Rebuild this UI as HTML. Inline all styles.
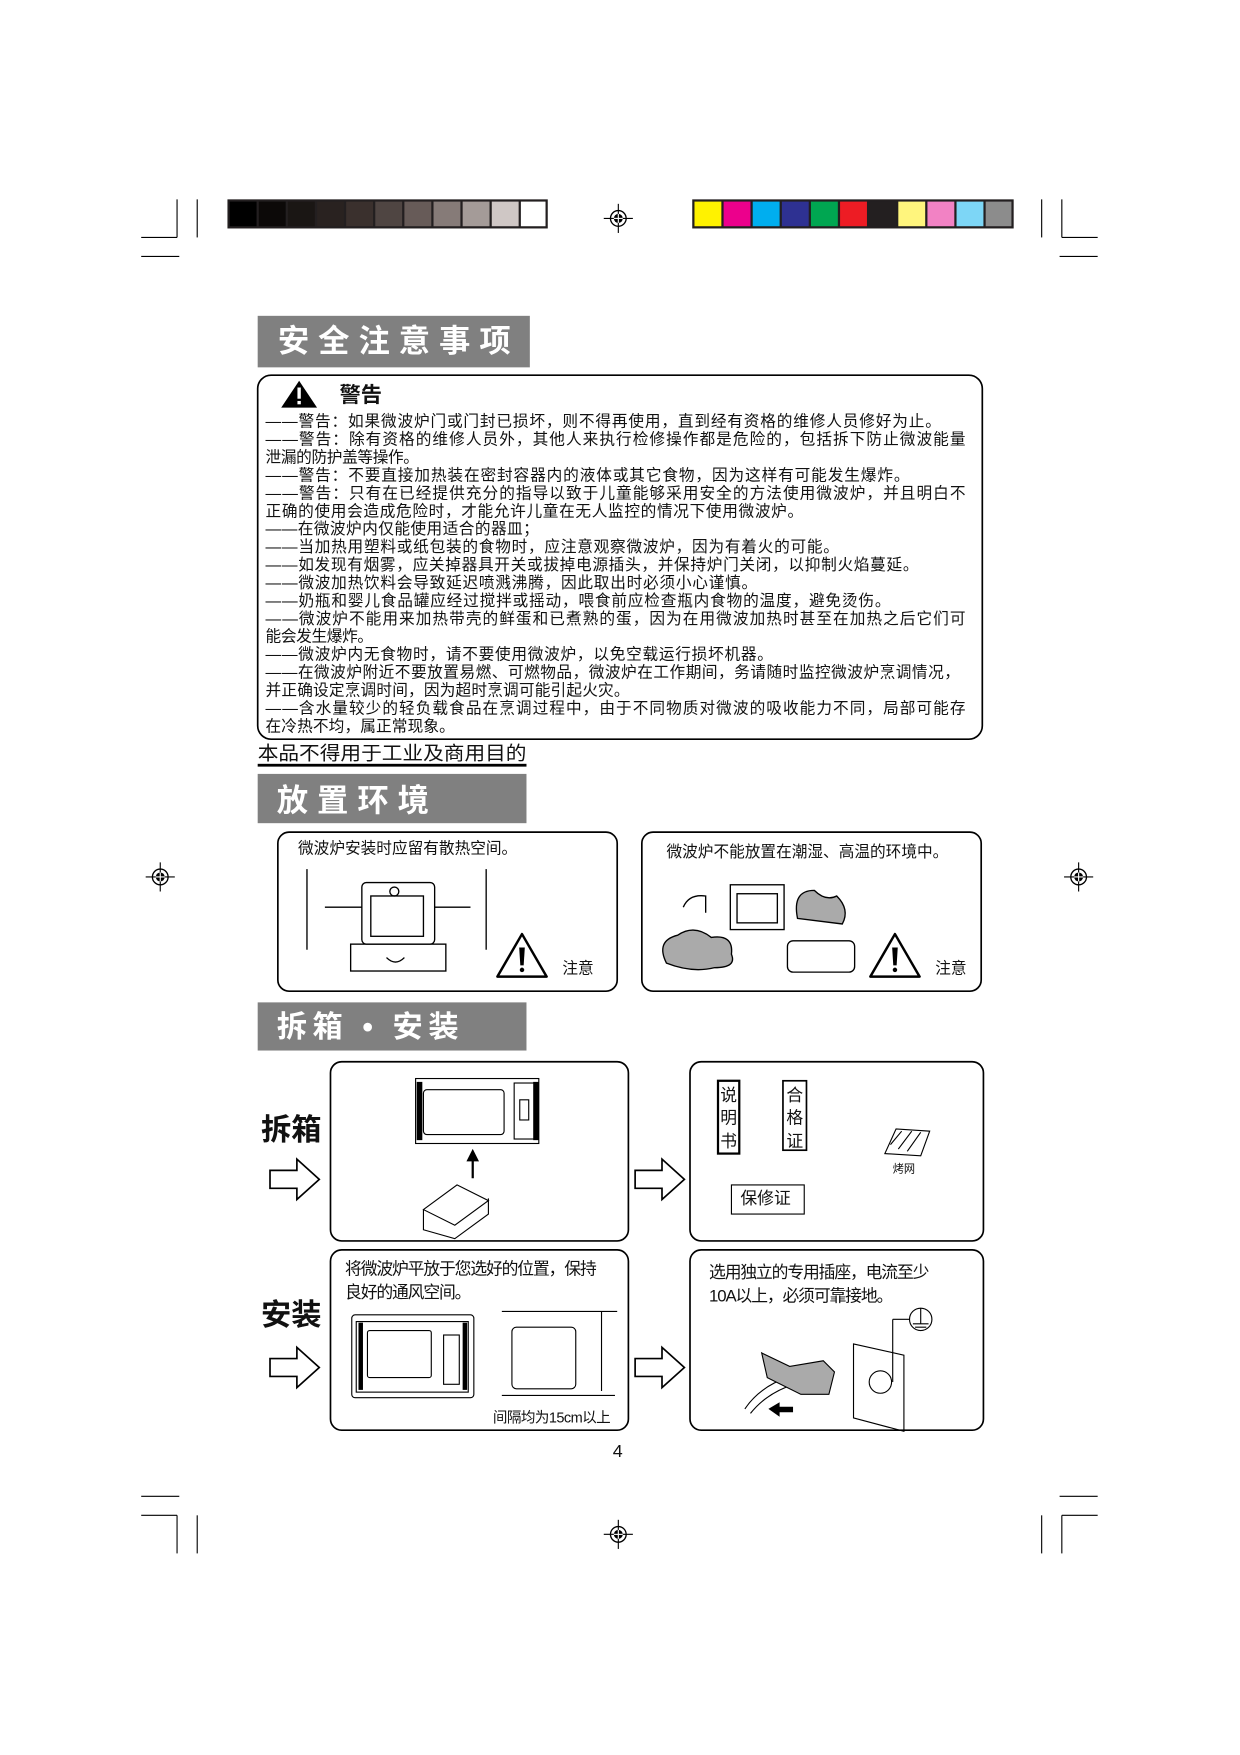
<!DOCTYPE html>
<html><head><meta charset="utf-8"><style>
html,body{margin:0;padding:0;background:#fff}
svg{display:block}
text{font-family:"Liberation Sans","Noto Sans CJK SC",sans-serif;fill:#111}
</style></head><body>
<svg width="1240" height="1755" viewBox="0 0 1107 1567" xmlns="http://www.w3.org/2000/svg">
<defs>
<g id="reg"><circle r="7" fill="none" stroke="#000" stroke-width="1.2"/><circle r="4" fill="#000"/><line x1="-13" y1="0" x2="13" y2="0" stroke="#000"/><line x1="0" y1="-13" x2="0" y2="13" stroke="#000"/><line x1="-4" y1="0" x2="4" y2="0" stroke="#fff" stroke-width="1"/><line x1="0" y1="-4" x2="0" y2="4" stroke="#fff" stroke-width="1"/></g>
<g id="warn"><path d="M0 -22 L22 16 L-22 16 Z" fill="#fff" stroke="#000" stroke-width="2.2" stroke-linejoin="round"/><path d="M-2.5 -10 L2.5 -10 L1.5 6 L-1.5 6 Z" fill="#000"/><circle cx="0" cy="10" r="2" fill="#000"/></g>
<g id="arrow"><path d="M0 10 L24 10 L24 0 L44 18 L24 36 L24 26 L0 26 Z" fill="#fff" stroke="#000" stroke-width="1.5"/></g>
</defs>
<g stroke="#000" stroke-width="1">
<line x1="158" y1="178" x2="158" y2="212"/><line x1="176" y1="178" x2="176" y2="212"/>
<line x1="126" y1="212" x2="158" y2="212"/><line x1="126" y1="229" x2="160" y2="229"/>
<line x1="930" y1="178" x2="930" y2="212"/><line x1="948" y1="178" x2="948" y2="212"/>
<line x1="948" y1="212" x2="980" y2="212"/><line x1="946" y1="229" x2="980" y2="229"/>
<line x1="126" y1="1336" x2="160" y2="1336"/><line x1="126" y1="1353" x2="158" y2="1353"/>
<line x1="158" y1="1353" x2="158" y2="1387"/><line x1="176" y1="1353" x2="176" y2="1387"/>
<line x1="946" y1="1336" x2="980" y2="1336"/><line x1="948" y1="1353" x2="980" y2="1353"/>
<line x1="948" y1="1353" x2="948" y2="1387"/><line x1="930" y1="1353" x2="930" y2="1387"/>
</g>
<rect x="203" y="178" width="286" height="26" fill="#231f20"/>
<g>
<rect x="205" y="180" width="24" height="22" fill="#000"/>
<rect x="231" y="180" width="24" height="22" fill="#0c0908"/>
<rect x="257" y="180" width="24" height="22" fill="#1a1614"/>
<rect x="283" y="180" width="24" height="22" fill="#292220"/>
<rect x="309" y="180" width="24" height="22" fill="#3a302d"/>
<rect x="335" y="180" width="24" height="22" fill="#4f4542"/>
<rect x="361" y="180" width="24" height="22" fill="#675b58"/>
<rect x="387" y="180" width="24" height="22" fill="#867b78"/>
<rect x="413" y="180" width="24" height="22" fill="#a49b98"/>
<rect x="439" y="180" width="24" height="22" fill="#cfc7c5"/>
<rect x="465" y="180" width="22" height="22" fill="#fff"/>
</g>
<rect x="618" y="178" width="287" height="26" fill="#231f20"/>
<rect x="620" y="180" width="24" height="22" fill="#fff200"/>
<rect x="646" y="180" width="24" height="22" fill="#ec008c"/>
<rect x="672" y="180" width="24" height="22" fill="#00aeef"/>
<rect x="698" y="180" width="24" height="22" fill="#2e3192"/>
<rect x="724" y="180" width="24" height="22" fill="#00a651"/>
<rect x="750" y="180" width="24" height="22" fill="#ed1c24"/>
<rect x="776" y="180" width="24" height="22" fill="#231f20"/>
<rect x="802" y="180" width="24" height="22" fill="#fff57d"/>
<rect x="828" y="180" width="24" height="22" fill="#f282c4"/>
<rect x="854" y="180" width="24" height="22" fill="#7dd6f6"/>
<rect x="880" y="180" width="23" height="22" fill="#8c8c8c"/>
<use href="#reg" x="552" y="195"/>
<use href="#reg" x="552" y="1370"/>
<use href="#reg" x="143" y="783"/>
<use href="#reg" x="963" y="783"/>

<rect x="230" y="282" width="243" height="46" fill="#808080"/>
<text x="248" y="314" font-size="28" font-weight="bold" style="fill:#fff" letter-spacing="8">安全注意事项</text>
<rect x="230" y="335" width="647" height="325" rx="12" fill="none" stroke="#000" stroke-width="1.5"/>
<path d="M267 340 L283 364 L251 364 Z" fill="#000"/><rect x="265.5" y="346" width="3" height="10" fill="#fff"/><rect x="265.5" y="358" width="3" height="3" fill="#fff"/>
<text x="303" y="359" font-size="19" font-weight="bold">警告</text>
<g font-size="14" lengthAdjust="spacingAndGlyphs">
<text x="237" y="381" textLength="603">——警告：如果微波炉门或门封已损坏，则不得再使用，直到经有资格的维修人员修好为止。</text>
<text x="237" y="397" textLength="625">——警告：除有资格的维修人员外，其他人来执行检修操作都是危险的，包括拆下防止微波能量</text>
<text x="237" y="413" textLength="137">泄漏的防护盖等操作。</text>
<text x="237" y="429" textLength="575">——警告：不要直接加热装在密封容器内的液体或其它食物，因为这样有可能发生爆炸。</text>
<text x="237" y="445" textLength="625">——警告：只有在已经提供充分的指导以致于儿童能够采用安全的方法使用微波炉，并且明白不</text>
<text x="237" y="461" textLength="480">正确的使用会造成危险时，才能允许儿童在无人监控的情况下使用微波炉。</text>
<text x="237" y="477" textLength="244">——在微波炉内仅能使用适合的器皿；</text>
<text x="237" y="493" textLength="512">——当加热用塑料或纸包装的食物时，应注意观察微波炉，因为有着火的可能。</text>
<text x="237" y="509" textLength="583">——如发现有烟雾，应关掉器具开关或拔掉电源插头，并保持炉门关闭，以抑制火焰蔓延。</text>
<text x="237" y="525" textLength="439">——微波加热饮料会导致延迟喷溅沸腾，因此取出时必须小心谨慎。</text>
<text x="237" y="541" textLength="558">——奶瓶和婴儿食品罐应经过搅拌或摇动，喂食前应检查瓶内食物的温度，避免烫伤。</text>
<text x="237" y="557" textLength="625">——微波炉不能用来加热带壳的鲜蛋和已煮熟的蛋，因为在用微波加热时甚至在加热之后它们可</text>
<text x="237" y="573" textLength="96">能会发生爆炸。</text>
<text x="237" y="589" textLength="453">——微波炉内无食物时，请不要使用微波炉，以免空载运行损坏机器。</text>
<text x="237" y="605" textLength="620">——在微波炉附近不要放置易燃、可燃物品，微波炉在工作期间，务请随时监控微波炉烹调情况，</text>
<text x="237" y="621" textLength="325">并正确设定烹调时间，因为超时烹调可能引起火灾。</text>
<text x="237" y="637" textLength="625">——含水量较少的轻负载食品在烹调过程中，由于不同物质对微波的吸收能力不同，局部可能存</text>
<text x="237" y="653" textLength="169">在冷热不均，属正常现象。</text>
</g>
<text x="230" y="678" font-size="17" textLength="240" lengthAdjust="spacingAndGlyphs">本品不得用于工业及商用目的</text>
<rect x="230" y="682" width="240" height="2.5" fill="#000"/>

<rect x="230" y="691" width="240" height="44" fill="#808080"/>
<text x="247" y="724" font-size="28" font-weight="bold" style="fill:#fff" letter-spacing="8">放置环境</text>
<rect x="248" y="743" width="303" height="142" rx="10" fill="none" stroke="#000" stroke-width="1.5"/>
<rect x="573" y="743" width="303" height="142" rx="10" fill="none" stroke="#000" stroke-width="1.5"/>
<text x="266" y="762" font-size="14">微波炉安装时应留有散热空间。</text>
<text x="595" y="765" font-size="14">微波炉不能放置在潮湿、高温的环境中。</text>
<use href="#warn" x="466" y="856"/><text x="502" y="869" font-size="14">注意</text>
<use href="#warn" x="799" y="856"/><text x="835" y="869" font-size="14">注意</text>
<g fill="none" stroke="#000" stroke-width="1.2">
<line x1="274" y1="776" x2="274" y2="848"/><line x1="434" y1="776" x2="434" y2="848"/>
<rect x="323" y="788" width="65" height="55" rx="4"/><rect x="331" y="800" width="47" height="36"/>
<path d="M323 810 L290 810 M388 810 L420 810"/>
<rect x="313" y="843" width="85" height="24"/>
<circle cx="352" cy="796" r="4"/><path d="M345 855 q8 8 16 0"/>
</g>
<g stroke="#000" stroke-width="1.2">
<path d="M595 860 q-10 -20 10 -25 q15 -10 30 2 q20 -3 18 15 q5 12 -15 12 q-20 5 -43 -4z" fill="#aaa"/>
<rect x="652" y="790" width="48" height="40" fill="none"/><rect x="658" y="798" width="36" height="26" fill="none"/>
<path d="M712 820 q-5 -25 15 -25 q10 10 20 5 q12 12 5 25z" fill="#aaa"/>
<rect x="703" y="840" width="60" height="28" rx="5" fill="#fff"/>
<path d="M610 810 q5 -12 20 -10 l0 15" fill="none"/>
</g>

<rect x="230" y="895" width="240" height="43" fill="#808080"/>
<text x="247" y="926" font-size="27" font-weight="bold" style="fill:#fff" letter-spacing="5">拆箱 • 安装</text>
<g fill="none" stroke="#000" stroke-width="1.5">
<rect x="295" y="948" width="266" height="160" rx="10"/>
<rect x="616" y="948" width="262" height="160" rx="10"/>
<rect x="295" y="1116" width="266" height="161" rx="10"/>
<rect x="616" y="1116" width="262" height="161" rx="10"/>
</g>
<text x="233" y="1018" font-size="27" font-weight="bold">拆箱</text>
<text x="233" y="1183" font-size="27" font-weight="bold">安装</text>
<use href="#arrow" x="241" y="1035"/><use href="#arrow" x="241" y="1203"/>
<use href="#arrow" x="567" y="1035"/><use href="#arrow" x="567" y="1203"/>
<g fill="none" stroke="#000" stroke-width="1">
<rect x="371" y="963" width="110" height="58"/><rect x="378" y="973" width="72" height="40" rx="3"/>
<rect x="459" y="967" width="18" height="50"/><rect x="464" y="982" width="8" height="18"/>
<path d="M378 1080 l30 -22 l28 14 l-30 22z M378 1080 l0 18 l28 8 l30 -22 l0 -14"/>
</g>
<rect x="372" y="966" width="5" height="52" fill="#000"/><rect x="476" y="966" width="5" height="52" fill="#000"/>
<path d="M422 1052 l0 -20 M418 1036 l4 -8 l4 8z" stroke="#000" stroke-width="2" fill="#000"/>
<g fill="none" stroke="#000">
<rect x="641" y="965" width="19" height="65" stroke-width="2"/>
<rect x="699" y="965" width="21" height="62" stroke-width="1.5"/>
<rect x="653" y="1058" width="65" height="26" stroke-width="1"/>
<path d="M790 1030 l10 -22 l30 2 l-8 22z M795 1022 l10 -12 M802 1026 l12 -16 M810 1028 l12 -17"/>
</g>
<text x="643" y="983" font-size="15">说</text><text x="643" y="1003" font-size="15">明</text><text x="643" y="1024" font-size="15">书</text>
<text x="702" y="983" font-size="15">合</text><text x="702" y="1003" font-size="15">格</text><text x="702" y="1024" font-size="15">证</text>
<text x="661" y="1075" font-size="15">保修证</text>
<text x="797" y="1047" font-size="10">烤网</text>
<text x="308" y="1138" font-size="15" letter-spacing="-1">将微波炉平放于您选好的位置，保持</text>
<text x="308" y="1159" font-size="15" letter-spacing="-1">良好的通风空间。</text>
<g fill="none" stroke="#000" stroke-width="1">
<rect x="314" y="1174" width="109" height="74" rx="3"/><rect x="318" y="1180" width="100" height="63"/>
<rect x="328" y="1188" width="57" height="42" rx="2"/><rect x="396" y="1192" width="14" height="44"/>
<path d="M448 1171 L551 1171 M537 1171 L537 1242 M448 1246 L549 1246"/>
<rect x="457" y="1185" width="57" height="55" rx="4"/>
</g>
<rect x="320" y="1181" width="4" height="60" fill="#000"/><rect x="413" y="1181" width="4" height="60" fill="#000"/>
<text x="440" y="1270" font-size="13" letter-spacing="-0.5">间隔均为15cm以上</text>
<text x="633" y="1141" font-size="15" letter-spacing="-1">选用独立的专用插座，电流至少</text>
<text x="633" y="1162" font-size="15" letter-spacing="-1">10A以上，必须可靠接地。</text>
<g fill="none" stroke="#000" stroke-width="1">
<circle cx="822" cy="1178" r="10"/><path d="M822 1168 L822 1182 M815 1182 L829 1182 M817 1185 L827 1185"/>
<path d="M762 1200 l45 10 l0 68 l-45 -12z"/><circle cx="786" cy="1234" r="10"/>
<path d="M797 1178 L812 1178 M797 1178 L797 1234"/>
<path d="M665 1258 q20 -30 70 -35"/><path d="M670 1262 q22 -28 70 -32"/>
</g>
<path d="M680 1208 l25 12 l30 -5 l10 10 l-5 20 l-25 0 l-30 -15z" fill="#aaa" stroke="#000"/>
<path d="M686 1258 l10 -6 l0 4 l12 0 l0 5 l-12 0 l0 4z" fill="#000"/>
<text x="547" y="1301" font-size="16">4</text>
</svg>
</body></html>
